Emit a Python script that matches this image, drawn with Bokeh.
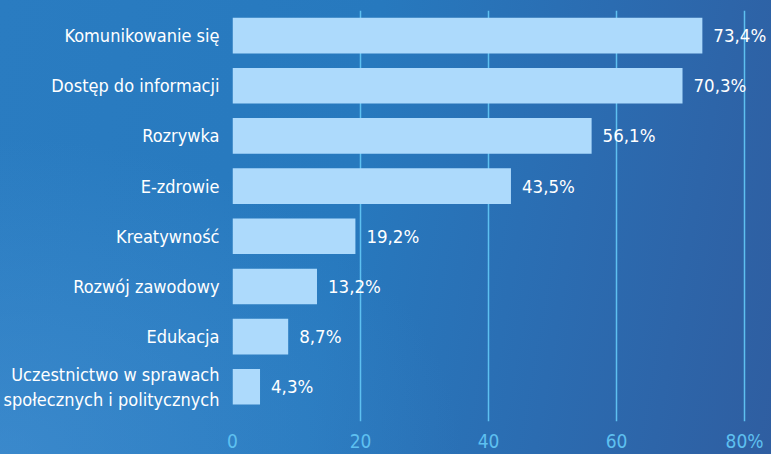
from bokeh.plotting import figure
from bokeh.models import ColumnDataSource, FixedTicker, Range1d, LabelSet
from bokeh.core.properties import value
from bokeh.embed import file_html
from bokeh.resources import INLINE

categories = ["Komunikowanie się", "Dostęp do informacji", "Rozrywka", "E-zdrowie",
              "Kreatywność", "Rozwój zawodowy", "Edukacja",
              "Uczestnictwo w sprawach\nspołecznych i politycznych"]
values = [73.4, 70.3, 56.1, 43.5, 19.2, 13.2, 8.7, 4.3]
value_labels = ["73,4%", "70,3%", "56,1%", "43,5%", "19,2%", "13,2%", "8,7%", "4,3%"]
x_ticks = [0, 20, 40, 60, 80]
x_tick_labels = ["0", "20", "40", "60", "80%"]

n = len(categories)
ypos = [n - 1 - i for i in range(n)]

FONT = "DejaVu Sans Condensed"

src = ColumnDataSource(dict(y=ypos, v=values, lab=value_labels, cat=categories))

p = figure(width=771, height=454, output_backend="svg", toolbar_location=None,
           x_range=Range1d(0, 84.2), y_range=Range1d(-0.692, 7.5),
           min_border_left=231, min_border_right=0, min_border_top=10, min_border_bottom=22)
p.styles = {"background": "radial-gradient(ellipse 60% 70% at 0% 100%, rgba(75,150,215,0.5) 0%, rgba(75,150,215,0) 100%), "
                          "linear-gradient(100deg, #2a7cc1 0%, #2779be 45%, #2b6cb1 72%, #2f5ea1 100%)"}
p.background_fill_color = None
p.border_fill_color = None
p.outline_line_color = None

p.hbar(y="y", right="v", left=0, height=0.71, source=src, color="#addafc", line_color=None)

labels = LabelSet(x="v", y="y", text="lab", source=src, x_offset=11, y_offset=0,
                  text_baseline="middle", text_align="left", text_color="white",
                  text_font=value(FONT), text_font_size="18.5px")
p.add_layout(labels)

p.xaxis.ticker = FixedTicker(ticks=x_ticks)
p.xaxis.major_label_overrides = {t: l for t, l in zip(x_ticks, x_tick_labels)}
p.xaxis.axis_line_color = None
p.xaxis.major_tick_line_color = None
p.xaxis.minor_tick_line_color = None
p.xaxis.major_label_text_color = "#5ec0f0"
p.xaxis.major_label_text_font = FONT
p.xaxis.major_label_text_font_size = "19px"
p.xaxis.major_label_standoff = 2

p.yaxis.ticker = FixedTicker(ticks=ypos)
p.yaxis.major_label_overrides = {y: c for y, c in zip(ypos, categories)}
p.yaxis.axis_line_color = None
p.yaxis.major_tick_line_color = None
p.yaxis.minor_tick_line_color = None
p.yaxis.major_label_text_color = "white"
p.yaxis.major_label_text_font = FONT
p.yaxis.major_label_text_font_size = "18px"
p.yaxis.major_label_standoff = 7

p.xgrid.ticker = FixedTicker(ticks=x_ticks)
p.xgrid.grid_line_color = "#5ec0f0"
p.xgrid.grid_line_width = 1.5
p.ygrid.grid_line_color = None

open("out.html", "w").write(file_html(p, INLINE))
